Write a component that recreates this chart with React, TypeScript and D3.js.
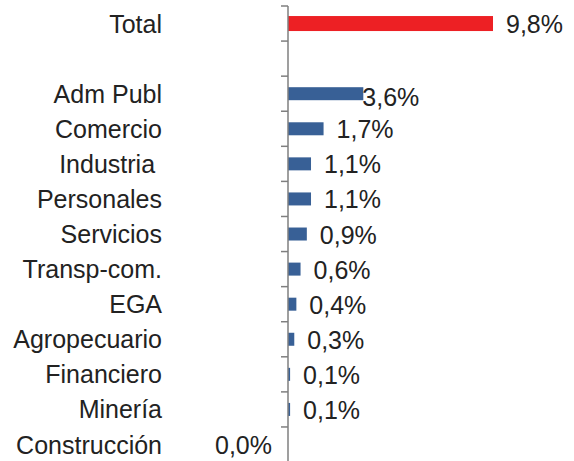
import React, { useRef, useEffect } from 'react';
import * as d3 from 'd3';

// rows top to bottom; the empty string is the spacer row under Total
const categories = [
  'Total',
  '',
  'Adm Publ',
  'Comercio',
  'Industria ',
  'Personales',
  'Servicios',
  'Transp-com.',
  'EGA',
  'Agropecuario',
  'Financiero',
  'Minería',
  'Construcción',
];
const values: (number | null)[] = [9.8, null, 3.6, 1.7, 1.1, 1.1, 0.9, 0.6, 0.4, 0.3, 0.1, 0.1, 0.0];

const WIDTH = 574;
const HEIGHT = 461;
const FONT = '"Liberation Sans", Arial, sans-serif';

const App: React.FC = () => {
  const svgRef = useRef<SVGSVGElement>(null);

  useEffect(() => {
    if (!svgRef.current) return;
    const svg = d3.select(svgRef.current);
    svg.selectAll('*').remove();

    const axisX = 288;
    const top = 6;
    const step = 35.08;

    const y = d3
      .scaleBand<number>()
      .domain(d3.range(categories.length))
      .range([top, top + step * categories.length])
      .paddingInner(0)
      .paddingOuter(0);

    const x = d3
      .scaleLinear()
      .domain([0, 9.8])
      .range([axisX, 493]);

    const fmt = (v: number) => d3.format('.1f')(v).replace('.', ',') + '%';

    // category labels
    svg
      .append('g')
      .selectAll('text')
      .data(categories)
      .enter()
      .append('text')
      .attr('x', 162)
      .attr('y', (_, i) => (y(i) || 0) + y.bandwidth() / 2 + 9)
      .attr('text-anchor', 'end')
      .attr('xml:space', 'preserve')
      .style('white-space', 'pre')
      .style('font-family', FONT)
      .style('font-size', '25px')
      .style('fill', '#222')
      .text((d) => d);

    const rows = values
      .map((v, i) => ({ v, i, cat: categories[i] }))
      .filter((d) => d.v !== null) as { v: number; i: number; cat: string }[];

    // bars
    svg
      .append('g')
      .selectAll('rect')
      .data(rows)
      .enter()
      .append('rect')
      .attr('x', axisX)
      .attr('y', (d) => (y(d.i) || 0) + y.bandwidth() / 2 - (d.i === 0 ? 7.5 : 6.5))
      .attr('width', (d) => Math.max(0, x(d.v) - axisX))
      .attr('height', (d) => (d.i === 0 ? 15 : 13))
      .attr('fill', (d) => (d.i === 0 ? '#ED2024' : '#386096'));

    // axis line + ticks
    const axis = svg.append('g').attr('stroke', '#7f7f7f').attr('stroke-width', 1.5);
    axis
      .append('line')
      .attr('x1', axisX)
      .attr('x2', axisX)
      .attr('y1', top)
      .attr('y2', HEIGHT);
    axis
      .selectAll('.tick')
      .data(d3.range(categories.length + 1))
      .enter()
      .append('line')
      .attr('class', 'tick')
      .attr('x1', axisX - 7)
      .attr('x2', axisX)
      .attr('y1', (i) => top + step * i)
      .attr('y2', (i) => top + step * i);

    // value labels (Excel nudged the Adm Publ one onto the bar end)
    svg
      .append('g')
      .selectAll('text')
      .data(rows)
      .enter()
      .append('text')
      .attr('x', (d) => {
        if (d.v <= 0) return axisX - 16;
        if (d.cat === 'Adm Publ') return x(d.v) - 1;
        return x(d.v) + 13;
      })
      .attr('y', (d) => (y(d.i) || 0) + y.bandwidth() / 2 + (d.cat === 'Adm Publ' ? 12 : 9.5))
      .attr('text-anchor', (d) => (d.v <= 0 ? 'end' : 'start'))
      .style('font-family', FONT)
      .style('font-size', '25px')
      .style('fill', '#222')
      .text((d) => fmt(d.v));
  }, []);

  return (
    <svg
      ref={svgRef}
      width={WIDTH}
      height={HEIGHT}
      style={{ position: 'absolute', left: 0, top: 0, background: '#fff' }}
    />
  );
};

export default App;
